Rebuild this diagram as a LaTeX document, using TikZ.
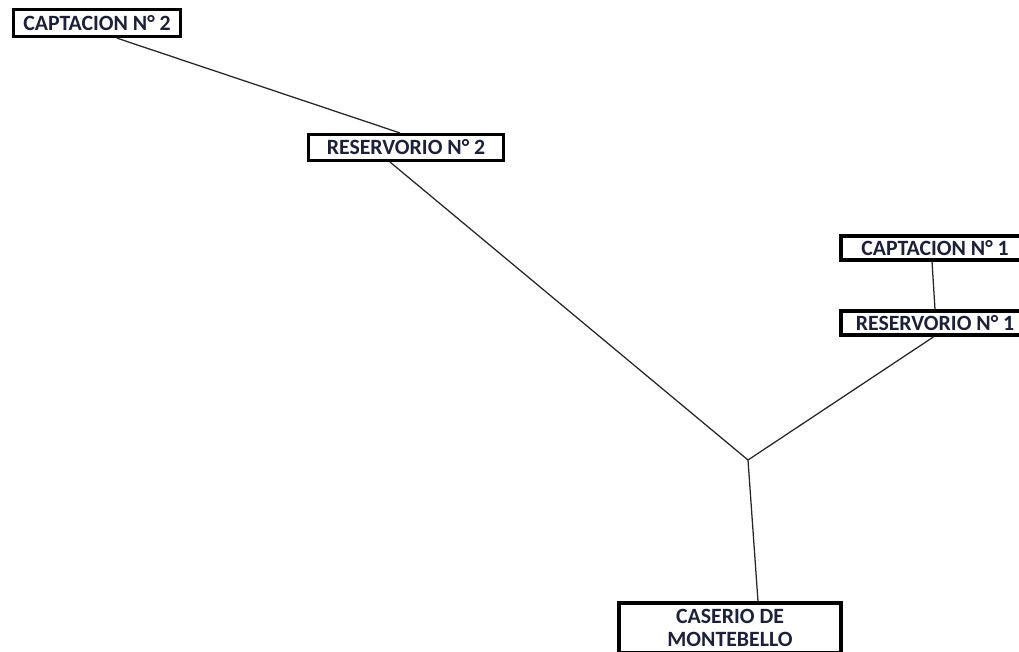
\documentclass[tikz,border=0pt]{standalone}
\usepackage{fontspec}
\setmainfont{Carlito}
\usetikzlibrary{calc}
\definecolor{labelcol}{RGB}{28,32,56}

\begin{document}
\begin{tikzpicture}[x=0.025cm,y=-0.025cm,
		site/.style={draw,line width=2.2pt,inner sep=0pt,text=labelcol,
			font=\fontsize{15.5}{16}\selectfont\bfseries},
		pipe/.style={line width=0.9pt,black!85}]
		\clip (0,0) rectangle (1019,651);

		\node[site,minimum width=4.18cm,minimum height=0.68cm] (cap2) at (97,23) {CAPTACION N° 2};
		\node[site,minimum width=4.88cm,minimum height=0.65cm] (res2) at (406,147.5) {RESERVORIO N° 2};
		\node[site,minimum width=4.70cm,minimum height=0.60cm] (cap1) at (935,248) {CAPTACION N° 1};
		\node[site,minimum width=4.70cm,minimum height=0.60cm] (res1) at (935,323) {RESERVORIO N° 1};
		\node[site,minimum width=5.55cm,minimum height=1.25cm,align=center] (caserio) at (730,628) {CASERIO DE\\MONTEBELLO};
		\coordinate (y) at (748,460);

		\path[pipe] ($(cap2.south)+(20,0)$) edge ($(res2.north)+(-6,0)$);
		\path[pipe] ($(res2.south)+(-16,0)$) edge (y);
		\path[pipe] ($(cap1.south)+(-3,0)$) edge (res1.north);
		\path[pipe] ($(res1.south)+(-1,0)$) edge (y);
		\path[pipe] (y) edge ($(caserio.north)+(28,0)$);
	\end{tikzpicture}
\end{document}
